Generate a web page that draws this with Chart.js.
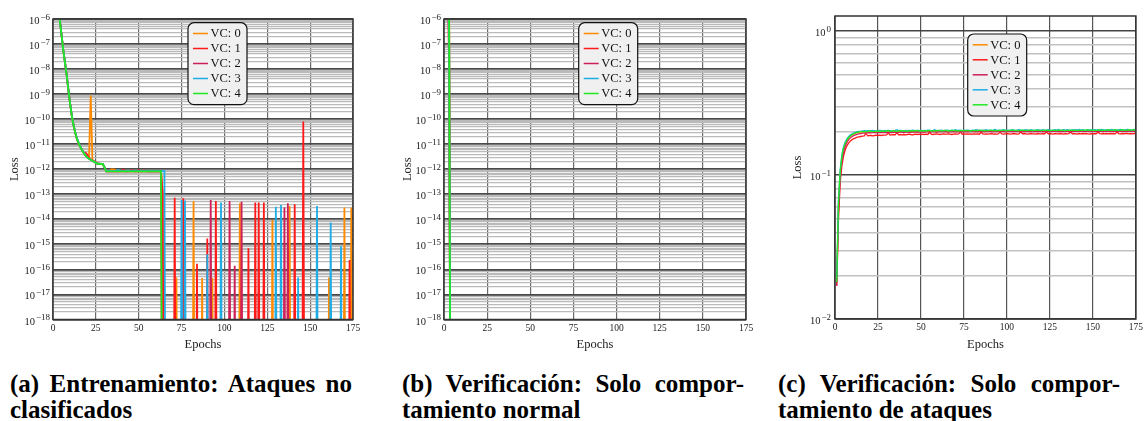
<!DOCTYPE html>
<html>
<head>
<meta charset="utf-8">
<script src="https://cdn.jsdelivr.net/npm/chart.js@4.4.1/dist/chart.umd.min.js"></script>
<style>
  html, body { margin: 0; padding: 0; background: #fff; }
  body { width: 1146px; height: 421px; position: relative; overflow: hidden;
         font-family: 'Liberation Serif', 'Times New Roman', serif; }
  canvas { position: absolute; top: 0; }
  .cap { position: absolute; width: 342px; font-weight: bold; font-size: 25px;
         line-height: 26px; color: #000; white-space: nowrap; }
  .cap.just { text-align: justify; text-align-last: justify; white-space: normal; }
</style>
</head>
<body>
<canvas id="chartA" width="372" height="352" style="left:0px"></canvas>
<canvas id="chartB" width="372" height="352" style="left:393px"></canvas>
<canvas id="chartC" width="363" height="352" style="left:783px"></canvas>

<div class="cap just" style="left:10px;top:371px">(a) Entrenamiento: Ataques no</div>
<div class="cap" style="left:10px;top:397px">clasificados</div>
<div class="cap just" style="left:402px;top:371px">(b) Verificación: Solo compor-</div>
<div class="cap" style="left:402px;top:397px">tamiento normal</div>
<div class="cap just" style="left:778px;top:371px">(c) Verificación: Solo compor-</div>
<div class="cap" style="left:778px;top:397px">tamiento de ataques</div>

<script>
const FONT = "'Liberation Serif', 'Times New Roman', serif";

// ---- shared labels ----
const VC_LABELS = ['VC: 0', 'VC: 1', 'VC: 2', 'VC: 3', 'VC: 4'];
const VC_COLORS = ['#ff8a00', '#ff1a1a', '#cf1f57', '#20ade6', '#22e822'];
const X_TICKS = [0, 25, 50, 75, 100, 125, 150, 175];
const EPOCHS = Array.from({ length: 175 }, (_, i) => i + 1);

// ---- (a) training loss, epochs 1..66 (0 = loss underflowed to zero) ----
const trainVC0 = [
  5.0e-5, 1.3e-5, 3.2e-6, 9.0e-7, 2.2e-7, 5.7e-8, 1.8e-8, 5.7e-9, 1.4e-9, 4.1e-10,
  1.3e-10, 5.7e-11, 2.9e-11, 1.6e-11, 1.06e-11, 7.7e-12, 5.7e-12, 4.4e-12, 3.6e-12, 3.0e-12,
  2.7e-12, 8.7e-10, 2.3e-12, 2.0e-12, 1.8e-12, 1.67e-12, 1.66e-12, 1.63e-12, 1.62e-12, 1.2e-12,
  8.3e-13, 8.4e-13, 8.6e-13, 9.8e-13, 9.9e-13, 9.7e-13, 8.4e-13, 8.3e-13, 8.4e-13, 8.3e-13,
  8.4e-13, 8.3e-13, 8.4e-13, 8.3e-13, 8.4e-13, 8.3e-13, 8.4e-13, 8.3e-13, 8.4e-13, 8.3e-13,
  8.4e-13, 8.3e-13, 8.4e-13, 8.3e-13, 8.4e-13, 8.3e-13, 8.4e-13, 8.3e-13, 8.4e-13, 8.3e-13,
  8.4e-13, 8.3e-13, 8.4e-13, 1.2e-13, 0, 0
];
const trainVC1 = [
  5.1e-5, 1.3e-5, 3.3e-6, 9.1e-7, 2.3e-7, 5.8e-8, 1.9e-8, 5.8e-9, 1.5e-9, 4.2e-10,
  1.35e-10, 5.9e-11, 2.9e-11, 1.7e-11, 1.1e-11, 7.9e-12, 5.8e-12, 4.6e-12, 4.6e-12, 3.9e-12,
  2.8e-12, 2.5e-12, 2.3e-12, 2.1e-12, 1.9e-12, 1.7e-12, 1.67e-12, 1.64e-12, 1.63e-12, 1.25e-12,
  8.4e-13, 8.3e-13, 8.4e-13, 8.3e-13, 8.4e-13, 8.3e-13, 8.4e-13, 8.3e-13, 8.4e-13, 8.5e-13,
  9.6e-13, 8.4e-13, 8.3e-13, 8.4e-13, 8.5e-13, 9.2e-13, 8.4e-13, 8.3e-13, 8.4e-13, 9.3e-13,
  8.4e-13, 8.3e-13, 9.0e-13, 8.4e-13, 8.3e-13, 8.4e-13, 8.3e-13, 8.4e-13, 8.3e-13, 8.4e-13,
  8.3e-13, 8.4e-13, 8.3e-13, 1.0e-13, 0, 0
];
const trainVC2 = [
  5.0e-5, 1.3e-5, 3.2e-6, 8.9e-7, 2.2e-7, 5.6e-8, 1.8e-8, 5.6e-9, 1.4e-9, 4.0e-10,
  1.3e-10, 5.6e-11, 2.8e-11, 1.6e-11, 1.05e-11, 7.6e-12, 5.6e-12, 4.4e-12, 3.5e-12, 3.0e-12,
  2.6e-12, 2.4e-12, 2.2e-12, 2.0e-12, 1.8e-12, 1.66e-12, 1.65e-12, 1.62e-12, 1.62e-12, 1.2e-12,
  8.3e-13, 8.3e-13, 8.4e-13, 8.3e-13, 8.3e-13, 8.4e-13, 8.3e-13, 8.3e-13, 8.4e-13, 8.3e-13,
  8.3e-13, 8.4e-13, 8.3e-13, 8.3e-13, 8.4e-13, 8.3e-13, 8.3e-13, 8.4e-13, 8.3e-13, 8.3e-13,
  8.4e-13, 8.3e-13, 8.3e-13, 8.4e-13, 8.3e-13, 8.3e-13, 8.4e-13, 8.3e-13, 8.3e-13, 8.4e-13,
  8.3e-13, 8.3e-13, 8.4e-13, 0, 0, 0
];
const trainVC3 = [
  5.2e-5, 1.3e-5, 3.3e-6, 9.2e-7, 2.3e-7, 5.8e-8, 1.9e-8, 5.8e-9, 1.5e-9, 4.2e-10,
  1.4e-10, 6.0e-11, 3.0e-11, 1.75e-11, 1.15e-11, 8.0e-12, 5.8e-12, 4.5e-12, 3.6e-12, 3.0e-12,
  2.6e-12, 2.4e-12, 2.2e-12, 2.0e-12, 1.8e-12, 1.68e-12, 1.66e-12, 1.63e-12, 1.62e-12, 1.25e-12,
  8.4e-13, 8.4e-13, 8.5e-13, 8.4e-13, 8.4e-13, 8.5e-13, 8.4e-13, 9.4e-13, 8.4e-13, 8.4e-13,
  8.5e-13, 8.4e-13, 8.4e-13, 8.5e-13, 8.4e-13, 8.4e-13, 8.5e-13, 8.4e-13, 8.4e-13, 8.5e-13,
  8.4e-13, 8.4e-13, 8.5e-13, 8.4e-13, 8.4e-13, 8.5e-13, 8.4e-13, 8.4e-13, 8.5e-13, 8.4e-13,
  8.4e-13, 8.5e-13, 8.4e-13, 8.4e-13, 8.4e-13, 0
];
const trainVC4 = [
  5.0e-5, 1.3e-5, 3.2e-6, 8.9e-7, 2.2e-7, 5.6e-8, 1.8e-8, 5.6e-9, 1.4e-9, 4.0e-10,
  1.3e-10, 5.6e-11, 2.8e-11, 1.6e-11, 1.05e-11, 7.6e-12, 5.6e-12, 4.4e-12, 3.5e-12, 3.0e-12,
  2.6e-12, 2.4e-12, 2.2e-12, 2.0e-12, 1.8e-12, 1.66e-12, 1.65e-12, 1.62e-12, 1.62e-12, 1.2e-12,
  8.3e-13, 8.2e-13, 8.3e-13, 8.3e-13, 8.2e-13, 8.3e-13, 8.3e-13, 8.2e-13, 8.3e-13, 8.3e-13,
  8.2e-13, 8.3e-13, 8.3e-13, 8.3e-13, 8.2e-13, 8.3e-13, 8.3e-13, 8.2e-13, 8.3e-13, 8.3e-13,
  8.3e-13, 8.2e-13, 8.3e-13, 8.3e-13, 8.2e-13, 8.3e-13, 8.3e-13, 8.3e-13, 8.2e-13, 8.3e-13,
  8.3e-13, 8.2e-13, 8.3e-13, 0, 0, 0
];
// isolated non-zero losses after convergence: [epoch, loss]
const trainSpikesVC0 = [[72, 4.7e-17], [82, 5.4e-14], [87, 4.5e-17], [93, 4.5e-17], [109, 4.4e-14],
  [128, 9.3e-15], [138, 3.4e-14], [161, 4.7e-17], [170, 3.0e-14], [174, 3.0e-14]];
const trainSpikesVC1 = [[71, 7.2e-14], [76, 6.9e-14], [84, 1.7e-16], [90, 1.7e-15], [95, 5.4e-14],
  [114, 7.0e-16], [118, 4.7e-14], [120, 4.7e-14], [123, 4.7e-14], [141, 4.0e-14], [146, 8.0e-11],
  [173, 2.4e-16]];
const trainSpikesVC2 = [[92, 5.9e-14], [103, 5.4e-14], [106, 1.4e-16], [110, 5.0e-14], [135, 3.0e-14],
  [137, 4.4e-14]];
const trainSpikesVC3 = [[75, 5.9e-14], [77, 5.6e-14], [90, 4.0e-16], [98, 4.7e-14], [130, 3.2e-14],
  [133, 3.7e-14], [143, 4.7e-17], [154, 3.4e-14], [162, 7.4e-15], [168, 8.5e-16]];
const trainSpikesVC4 = [];

// ---- (b) verification loss on normal traffic, first epochs (zero afterwards) ----
const normalVC0 = [5e-3, 1e-4, 2e-6];
const normalVC1 = [5e-3, 1e-4, 1e-8];
const normalVC2 = [5e-3, 1e-4, 3e-7];
const normalVC3 = [5e-3, 1e-4, 1e-7];
const normalVC4 = [5e-3, 1e-4, 6e-7];

// ---- (c) verification loss on attack traffic, epochs 1..175 ----
const attackVC0 = [
  .018,.060,.100,.131,.151,.165,.175,.182,.187,.190,.193,.195,.197,.198,.199,.199,.200,.199,.200,.201,.200,.199,.200,.201,.200,
  .200,.201,.199,.200,.201,.200,.200,.202,.200,.201,.200,.199,.201,.200,.201,.202,.200,.201,.200,.201,.202,.201,.200,.201,.202,
  .201,.200,.202,.201,.201,.200,.202,.201,.202,.201,.200,.202,.201,.202,.201,.202,.203,.201,.202,.201,.202,.201,.203,.202,.201,
  .202,.203,.201,.202,.202,.201,.203,.202,.202,.201,.203,.202,.201,.202,.203,.202,.202,.201,.203,.202,.202,.203,.201,.202,.203,
  .202,.201,.203,.202,.202,.203,.202,.201,.203,.202,.203,.202,.202,.203,.201,.202,.203,.202,.202,.203,.202,.203,.202,.201,.203,
  .202,.203,.202,.203,.202,.202,.203,.202,.203,.202,.201,.203,.202,.203,.202,.203,.202,.203,.202,.202,.203,.202,.203,.202,.203,
  .202,.203,.203,.202,.203,.202,.203,.202,.203,.203,.202,.203,.202,.203,.204,.203,.202,.203,.204,.203,.203,.202,.204,.203,.203
];
const attackVC1 = [
  .017,.048,.088,.116,.136,.150,.160,.167,.172,.176,.179,.181,.183,.184,.185,.186,.187,.195,.187,.188,.188,.187,.188,.189,.188,
  .189,.188,.189,.189,.190,.196,.189,.190,.191,.190,.197,.190,.191,.190,.191,.190,.191,.192,.191,.190,.191,.192,.191,.192,.191,
  .192,.191,.192,.191,.198,.192,.191,.192,.193,.192,.191,.192,.193,.192,.192,.193,.192,.191,.192,.193,.192,.193,.199,.192,.193,
  .192,.193,.192,.193,.192,.193,.192,.193,.192,.198,.193,.192,.193,.192,.193,.194,.192,.193,.192,.193,.199,.193,.192,.193,.194,
  .193,.192,.193,.194,.193,.192,.193,.199,.193,.194,.193,.192,.193,.194,.193,.193,.192,.194,.193,.193,.194,.193,.199,.193,.194,
  .193,.192,.194,.193,.193,.194,.193,.192,.194,.193,.194,.199,.193,.194,.193,.192,.194,.193,.194,.193,.194,.193,.192,.194,.193,
  .194,.193,.199,.194,.193,.194,.193,.194,.193,.194,.193,.194,.193,.199,.194,.193,.194,.193,.194,.194,.193,.194,.193,.194,.194
];
const attackVC2 = [
  .017,.055,.095,.125,.145,.159,.169,.176,.181,.185,.188,.190,.192,.193,.194,.195,.195,.196,.196,.197,.196,.197,.197,.196,.197,
  .197,.198,.197,.197,.198,.197,.198,.197,.198,.198,.197,.198,.199,.198,.197,.198,.199,.198,.198,.199,.198,.199,.198,.199,.198,
  .199,.198,.199,.199,.198,.199,.200,.199,.198,.199,.200,.199,.199,.200,.199,.198,.200,.199,.200,.199,.200,.199,.200,.199,.200,
  .199,.200,.199,.200,.200,.199,.200,.199,.200,.201,.200,.199,.200,.200,.201,.200,.199,.200,.201,.200,.200,.201,.200,.199,.201,
  .200,.201,.200,.200,.201,.200,.201,.200,.199,.201,.200,.201,.200,.201,.200,.200,.201,.200,.201,.200,.201,.200,.201,.200,.201,
  .200,.201,.201,.200,.201,.200,.201,.200,.201,.201,.200,.201,.200,.201,.201,.200,.201,.202,.201,.200,.201,.201,.200,.201,.201,
  .201,.200,.201,.202,.201,.200,.201,.202,.201,.201,.200,.201,.202,.201,.201,.202,.201,.200,.201,.202,.201,.201,.202,.201,.201
];
const attackVC3 = [
  .019,.066,.108,.138,.158,.170,.179,.185,.190,.193,.196,.198,.200,.201,.201,.202,.203,.202,.203,.202,.203,.204,.203,.202,.203,
  .204,.203,.202,.204,.203,.204,.203,.202,.203,.204,.206,.203,.204,.203,.202,.204,.203,.204,.203,.205,.204,.203,.204,.203,.204,
  .203,.204,.203,.205,.204,.203,.204,.206,.204,.203,.204,.205,.203,.204,.205,.204,.203,.205,.204,.206,.204,.205,.204,.203,.205,
  .204,.205,.204,.203,.205,.204,.206,.205,.204,.205,.204,.205,.206,.204,.205,.204,.205,.207,.205,.204,.205,.204,.206,.205,.204,
  .205,.204,.206,.205,.204,.205,.206,.205,.204,.205,.206,.205,.204,.206,.205,.204,.205,.206,.205,.205,.206,.204,.205,.206,.205,
  .204,.205,.206,.205,.207,.205,.204,.206,.205,.206,.205,.204,.206,.205,.206,.205,.207,.205,.206,.205,.204,.206,.205,.206,.205,
  .206,.205,.206,.205,.207,.206,.205,.206,.205,.206,.207,.205,.206,.205,.206,.207,.206,.205,.206,.207,.206,.205,.206,.207,.206
];
const attackVC4 = [
  .018,.065,.105,.135,.155,.167,.176,.182,.187,.191,.194,.196,.198,.199,.200,.200,.201,.200,.201,.202,.201,.200,.201,.202,.201,
  .202,.201,.202,.201,.202,.203,.201,.202,.203,.202,.201,.202,.203,.202,.203,.202,.201,.203,.202,.203,.202,.203,.204,.202,.203,
  .202,.203,.202,.203,.204,.202,.203,.202,.203,.204,.203,.202,.203,.204,.203,.202,.203,.204,.203,.204,.203,.202,.204,.203,.204,
  .203,.204,.203,.202,.204,.203,.204,.203,.205,.203,.204,.203,.204,.203,.204,.205,.203,.204,.203,.204,.203,.204,.205,.203,.204,
  .203,.204,.205,.204,.203,.204,.203,.204,.205,.204,.203,.204,.205,.204,.203,.204,.205,.204,.204,.203,.205,.204,.205,.204,.203,
  .204,.205,.204,.203,.205,.204,.205,.204,.203,.205,.204,.205,.204,.205,.204,.203,.205,.204,.205,.204,.205,.206,.204,.205,.204,
  .205,.204,.205,.206,.204,.205,.204,.205,.206,.205,.204,.205,.206,.205,.204,.205,.206,.205,.204,.205,.206,.205,.205,.206,.205
];

// A log axis cannot show a loss of exactly zero: such epochs are plotted far
// below the visible range so the line drops straight off the bottom edge.
const ZERO_PLOT = 1e-30;

function seriesFrom(head, spikes) {
  return EPOCHS.map(e => {
    let v = e <= head.length ? head[e - 1] : 0;
    for (const [se, sv] of spikes) if (se === e) v = sv;
    return { x: e, y: v > 0 ? v : ZERO_PLOT };
  });
}

function logTicks(lo, hi) {
  const ticks = [];
  for (let k = lo; k < hi; k++) {
    for (let m = 1; m <= 9; m++) ticks.push({ value: m * Math.pow(10, k), major: m === 1 });
  }
  ticks.push({ value: Math.pow(10, hi), major: true });
  return ticks;
}

// frame, log tick labels with superscript exponents, and the rounded legend box
function panelDecor(cfg) {
  return {
    id: 'panelDecor',
    afterDraw(chart) {
      const { ctx, chartArea: ca } = chart;
      const ys = chart.scales.y;
      ctx.save();

      ctx.strokeStyle = '#333';
      ctx.lineWidth = 1.5;
      ctx.strokeRect(ca.left, ca.top, ca.right - ca.left, ca.bottom - ca.top);

      ctx.fillStyle = '#222';
      ctx.textAlign = 'right';
      ctx.textBaseline = 'alphabetic';
      for (const t of ys.ticks) {
        if (!t.major) continue;
        const y = ys.getPixelForValue(t.value);
        const exp = Math.round(Math.log10(t.value));
        const expText = exp < 0 ? '\u2212' + (-exp) : String(exp);
        const xr = ca.left - cfg.labelGap;
        ctx.font = '9px ' + FONT;
        const ew = ctx.measureText(expText).width;
        ctx.fillText(expText, xr, y + 0.7);
        ctx.font = '10.5px ' + FONT;
        ctx.fillText('10', xr - ew - 1, y + 5);
      }

      const lx = ca.left + cfg.legendX, ly = ca.top + cfg.legendY;
      const lw = 59, lh = 82, r = 6;
      ctx.beginPath();
      ctx.roundRect(lx, ly, lw, lh, r);
      ctx.fillStyle = '#f0f0f0';
      ctx.fill();
      ctx.strokeStyle = '#111';
      ctx.lineWidth = 1.2;
      ctx.stroke();
      ctx.textAlign = 'left';
      ctx.textBaseline = 'middle';
      ctx.font = '12.5px ' + FONT;
      chart.data.datasets.forEach((ds, i) => {
        const ry = ly + 10.8 + i * 15;
        ctx.strokeStyle = ds.borderColor;
        ctx.lineWidth = 1.5;
        ctx.beginPath();
        ctx.moveTo(lx + 5, ry);
        ctx.lineTo(lx + 20, ry);
        ctx.stroke();
        ctx.fillStyle = '#111';
        ctx.fillText(ds.label, lx + 22.5, ry + 0.5);
      });
      ctx.restore();
    }
  };
}

function makePanel(id, cfg) {
  return new Chart(document.getElementById(id), {
    type: 'line',
    data: {
      // VC: 4 is drawn last (on top), VC: 0 first
      datasets: cfg.series.map((s, i) => ({
        label: VC_LABELS[i], data: s, borderColor: VC_COLORS[i], order: 4 - i,
        borderWidth: cfg.lineWidth, pointRadius: 0, fill: false, tension: 0
      }))
    },
    options: {
      responsive: false, animation: false, events: [],
      layout: { autoPadding: false, padding: { left: 0, right: cfg.padRight, top: cfg.padTop, bottom: 0 } },
      plugins: { legend: { display: false }, tooltip: { enabled: false } },
      scales: {
        x: {
          type: 'linear', min: 0, max: 175,
          afterBuildTicks: s => { s.ticks = X_TICKS.map(v => ({ value: v })); },
          afterFit: s => { s.height = cfg.xAxisHeight; },
          grid: { color: cfg.vGrid, lineWidth: cfg.vGridWidth, drawTicks: false },
          border: { display: false },
          ticks: { font: { family: FONT, size: 9.5 }, color: '#222', padding: 3, maxRotation: 0, autoSkip: false },
          title: { display: true, text: 'Epochs', font: { family: FONT, size: 12.5 }, color: '#222', padding: { top: 0, bottom: 0 } }
        },
        y: {
          type: 'logarithmic', min: cfg.yMin, max: cfg.yMax,
          afterBuildTicks: s => { s.ticks = logTicks(cfg.decLo, cfg.decHi); },
          afterFit: s => { s.width = cfg.yAxisWidth; },
          grid: {
            color: c => (c.tick && c.tick.major) ? cfg.majorColor : cfg.minorColor,
            lineWidth: c => (c.tick && c.tick.major) ? cfg.majorWidth : cfg.minorWidth,
            drawTicks: false
          },
          border: { display: false },
          ticks: { display: false, autoSkip: false },
          title: { display: true, text: 'Loss', font: { family: FONT, size: 12.5 }, color: '#222', padding: { top: 7.5, bottom: 0 } }
        }
      }
    },
    plugins: [panelDecor(cfg)]
  });
}

const trainHeads = [trainVC0, trainVC1, trainVC2, trainVC3, trainVC4];
const trainSpikes = [trainSpikesVC0, trainSpikesVC1, trainSpikesVC2, trainSpikesVC3, trainSpikesVC4];
const normalHeads = [normalVC0, normalVC1, normalVC2, normalVC3, normalVC4];
const attackSeries = [attackVC0, attackVC1, attackVC2, attackVC3, attackVC4];

const smallLogStyle = {
  yMin: 1e-18, yMax: 1e-6, decLo: -18, decHi: -6,
  padTop: 19, xAxisHeight: 32.5, padRight: 19, lineWidth: 1.8,
  vGrid: '#6a6a6a', vGridWidth: 1.2, majorColor: '#4a4a4a', majorWidth: 1.8,
  minorColor: '#bababa', minorWidth: 1.15, labelGap: 3, legendY: 3.7
};

makePanel('chartA', Object.assign({}, smallLogStyle, {
  yAxisWidth: 53, legendX: 135,
  series: trainHeads.map((h, i) => seriesFrom(h, trainSpikes[i]))
}));

makePanel('chartB', Object.assign({}, smallLogStyle, {
  yAxisWidth: 51, legendX: 134.7,
  series: normalHeads.map(h => seriesFrom(h, []))
}));

makePanel('chartC', {
  yMin: 0.01, yMax: 1.27, decLo: -2, decHi: 0,
  padTop: 16, xAxisHeight: 33, padRight: 9, yAxisWidth: 52, lineWidth: 1.3,
  vGrid: '#555', vGridWidth: 1.2, majorColor: '#444', majorWidth: 1.5,
  minorColor: '#c2c2c2', minorWidth: 1.5, labelGap: 4, legendX: 132.7, legendY: 18,
  series: attackSeries.map(a => EPOCHS.map((e, i) => ({ x: e, y: a[i] })))
});
</script>
</body>
</html>
